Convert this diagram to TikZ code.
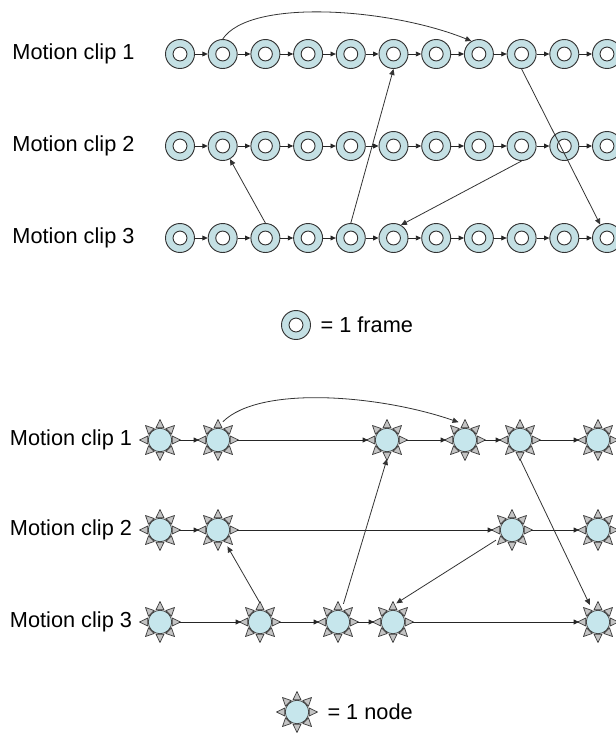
\documentclass[tikz,border=0pt]{standalone}
\usepackage{fontspec}
\setmainfont{Liberation Sans}
\usepackage{xcolor}
\definecolor{framefill}{HTML}{C4E0E4}
\definecolor{sunfill}{HTML}{C6E6EC}
\definecolor{rayfill}{HTML}{C4C4C4}
\usepackage{tikz}
\usetikzlibrary{arrows.meta, positioning, calc}

\begin{document}
\begin{tikzpicture}[x=0.75pt, y=-0.75pt,
      framecirc/.style={circle, draw=black!80, line width=0.7pt, fill=framefill, minimum size=21.75pt, inner sep=0pt,
        path picture={\draw[black!80, line width=0.7pt, fill=white] (path picture bounding box.center) circle (5.2pt);}},
      sun/.style={circle, draw=black!75, line width=0.6pt, fill=sunfill, minimum size=17.6pt, inner sep=0pt, outer sep=5.4pt},
      ray/.style={draw=black!75, line width=0.55pt, fill=rayfill, line join=round},
      seq/.style={-{Triangle[length=4pt, width=3.6pt]}, line width=0.6pt, black!85},
      jump/.style={-{Triangle[length=4.5pt, width=4pt]}, line width=0.6pt, black!80},
      cliplabel/.style={font=\fontsize{16.3}{19}\selectfont, inner sep=0pt}
    ]
      \useasboundingbox (0,0) rectangle (616,733);

      % frames
      \foreach \r/\y in {1/54, 2/146, 3/238} {
        \foreach \c in {1,...,11}
          \node[framecirc] (f\r-\c) at ({180+42.7*(\c-1)},\y) {};
        \foreach \c [count=\p] in {2,...,11}
          \draw[seq] (f\r-\p) -- (f\r-\c);
        \node[cliplabel, left=22.7pt of f\r-1] (ft\r) {Motion clip \r};
      }
      \draw[jump] (f1-2.north) .. controls (250,-2) and (390,8) .. (f1-8.120);
      \draw[jump] (f3-3.north) -- (f2-2);
      \draw[jump] (f3-5.north) -- (f1-6.south);
      \draw[jump] (f1-9.south) -- (f3-11);
      \draw[jump] (f2-9.south) -- (f3-6.60);

      \node[framecirc] (legf) at (296,325) {};
      \node[cliplabel, right=7pt of legf] (legft) {= 1 frame};

      % nodes
      \node[sun] (s1-1) at (160,440) {};
      \node[sun] (s1-2) at (218,440) {};
      \node[sun] (s1-3) at (387,440) {};
      \node[sun] (s1-4) at (465,440) {};
      \node[sun] (s1-5) at (520,440) {};
      \node[sun] (s1-6) at (598,440) {};
      \node[sun] (s2-1) at (160,530) {};
      \node[sun] (s2-2) at (218,530) {};
      \node[sun] (s2-3) at (512,530) {};
      \node[sun] (s2-4) at (598,530) {};
      \node[sun] (s3-1) at (160,622) {};
      \node[sun] (s3-2) at (260,622) {};
      \node[sun] (s3-3) at (338,622) {};
      \node[sun] (s3-4) at (393,622) {};
      \node[sun] (s3-5) at (598,622) {};
      \node[sun] (legs) at (297,712) {};
      \foreach \s in {s1-1,s1-2,s1-3,s1-4,s1-5,s1-6,s2-1,s2-2,s2-3,s2-4,s3-1,s3-2,s3-3,s3-4,s3-5,legs}
        \foreach \a in {0,45,...,315}
          \draw[ray] ($(\s)+(\a:12.2)+(\a+90:4)$) -- ($(\s)+(\a:20.5)$) -- ($(\s)+(\a:12.2)+(\a-90:4)$) -- cycle;

      \node[cliplabel, left=6.6pt of s1-1] (st1) {Motion clip 1};
      \node[cliplabel, left=6.6pt of s2-1] (st2) {Motion clip 2};
      \node[cliplabel, left=6.6pt of s3-1] (st3) {Motion clip 3};
      \node[cliplabel, right=8.5pt of legs] (legst) {= 1 node};

      \draw[seq] (s1-1) -- (s1-2);
      \draw[seq] (s1-2) -- (s1-3);
      \draw[seq] (s1-3) -- (s1-4);
      \draw[seq] (s1-4) -- (s1-5);
      \draw[seq] (s1-5) -- (s1-6);
      \draw[seq] (s2-1) -- (s2-2);
      \draw[seq] (s2-2) -- (s2-3);
      \draw[seq] (s2-3) -- (s2-4);
      \draw[seq] (s3-1) -- (s3-2);
      \draw[seq] (s3-2) -- (s3-3);
      \draw[seq] (s3-3) -- (s3-4);
      \draw[seq] (s3-4) -- (s3-5);

      \draw[jump] (s1-2.75) .. controls (260,385) and (380,395) .. (s1-4.110);
      \draw[jump] (s3-2.north) -- (s2-2);
      \draw[jump] (s3-3) -- (s1-3.south);
      \draw[jump] (s1-5.south) -- (s3-5);
      \draw[jump] (s2-3) -- (s3-4.80);
    \end{tikzpicture}
\end{document}
